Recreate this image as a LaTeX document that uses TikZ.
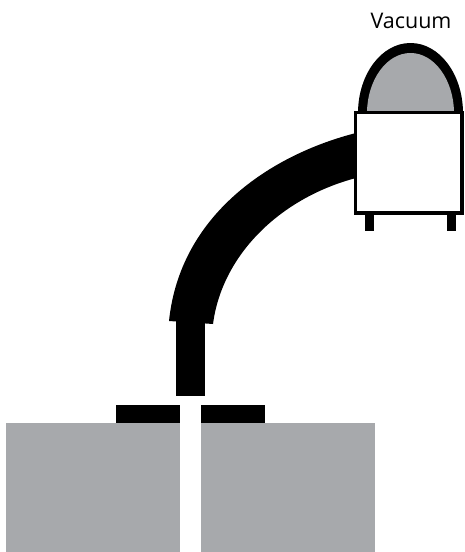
\documentclass[tikz,border=0pt]{standalone}
\usepackage{fontspec}
\setmainfont{Open Sans}
\definecolor{pgray}{HTML}{A7A9AC}
\tikzset{ink/.style={fill=black,draw=none},slab/.style={fill=pgray,draw=none}}
\begin{document}
\begin{tikzpicture}[x=1pt,y=-1pt]
\useasboundingbox (0,0) rectangle (464,552);
% substrate
\fill[slab] (6,423) rectangle (180,552);
\fill[slab] (201,423) rectangle (375,552);
% plates
\fill[ink] (116,405) rectangle (180,423);
\fill[ink] (201,405) rectangle (265,423);
% nozzle tube
\fill[ink] (176,318) rectangle (205,396);
% curved arm
\fill[ink] (169,321) .. controls (180,215) and (270,155) .. (356,133)
  -- (356,178) .. controls (280,198) and (222,255) .. (213,324) -- cycle;
% dome
\fill[ink] (358,112) .. controls (358.5,74) and (381.5,43) .. (410.5,43)
  .. controls (439.5,43) and (462.5,74) .. (463,112) -- cycle;
\fill[pgray] (367,112) .. controls (367.5,80) and (386.5,53) .. (410.5,53)
  .. controls (434.5,53) and (453.5,80) .. (454,112) -- cycle;
% feet
\fill[ink] (365,212) rectangle (374,231);
\fill[ink] (447,212) rectangle (456,231);
% chamber
\draw[line width=3.6pt,fill=white] (355.6,112.5) rectangle (462.2,213);
\node[font=\fontsize{21.5}{25}\selectfont,inner sep=0pt] (lab) at (411,21) {Vacuum};
\end{tikzpicture}
\end{document}
